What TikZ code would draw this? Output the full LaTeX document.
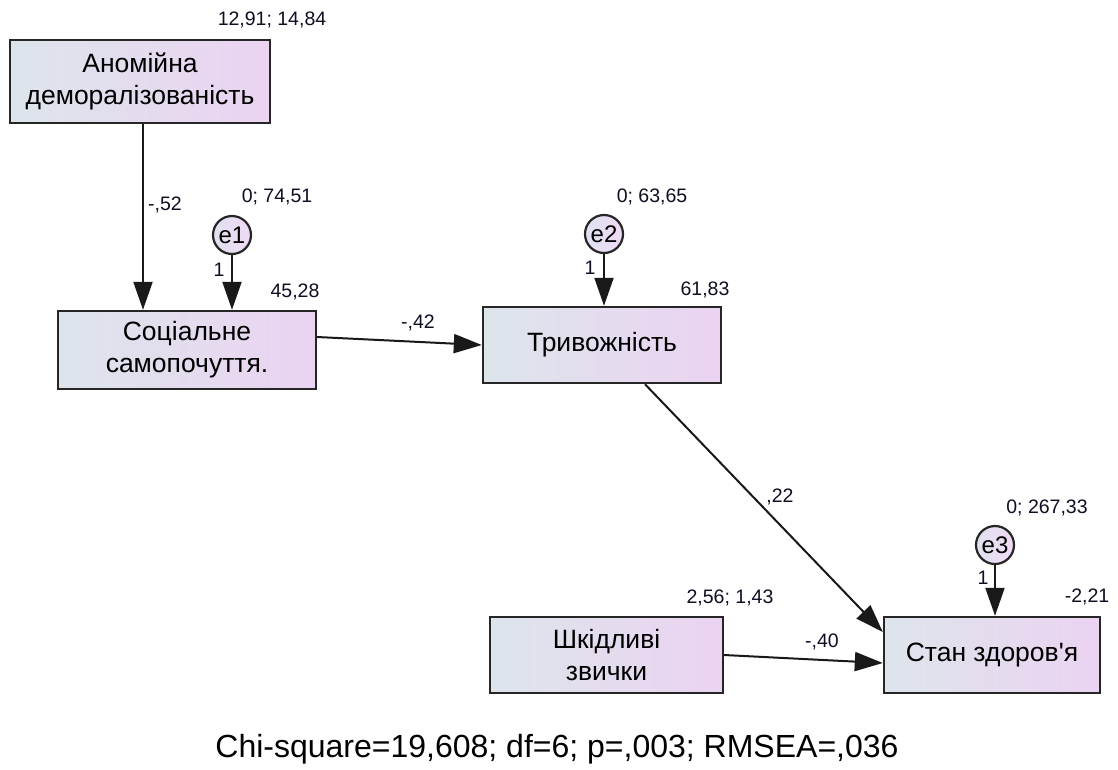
\documentclass[tikz,border=0pt]{standalone}
\usepackage{fontspec}
\setmainfont{Liberation Sans}
\newfontfamily\apfont{Liberation Sans}
\usetikzlibrary{arrows.meta,calc}
\definecolor{boxL}{RGB}{221,229,235}
\definecolor{boxR}{RGB}{235,211,242}
\definecolor{circL}{RGB}{225,225,240}
\definecolor{circR}{RGB}{238,218,244}
\definecolor{lab}{RGB}{15,15,35}
\begin{document}
\begin{tikzpicture}[x=1pt,y=-1pt,
  var/.style={draw=black!85, line width=2.4pt, left color=boxL, right color=boxR,
    minimum height=76pt, align=center, inner sep=0pt,
    font=\fontsize{26.5}{32}\selectfont},
  err/.style={circle, draw=black!85, line width=2.2pt, left color=circL, right color=circR,
    minimum size=38pt, inner sep=0pt, font=\fontsize{24}{24}\selectfont},
  arr/.style={line width=2pt, draw=black!90, -{Triangle[length=28pt,width=19pt]}},
  lbl/.style={text=lab, inner sep=0pt, font=\fontsize{19.5}{21}\selectfont}]
\fill[white] (0,0) rectangle (1118,769);
\useasboundingbox (0,0) rectangle (1118,769);

% variables
\node[var, minimum width=260pt, minimum height=83pt] (A) at (140,81.5) {Аномійна\\деморалізованість};
\node[var, minimum width=258pt, minimum height=78pt] (S) at (187,350) {Соціальне\\самопочуття.};
\node[var, minimum width=238pt] (T) at (602,345) {Тривожність};
\node[var, minimum width=233pt] (Sh) at (606.5,655) {Шкідливі\\звички};
\node[var, minimum width=216pt] (H) at (992,655) {Стан здоров{\apfont '}я};

% errors
\node[err] (e1) at (232,235) {e1};
\node[err] (e2) at (604,234) {e2};
\node[err] (e3) at (995,545) {e3};

% paths
\draw[arr] ([xshift=3pt]A.south) -- ([xshift=-44pt]S.north);
\draw[arr] (e1.south) -- (e1.south |- S.north);
\draw[arr] (e2.south) -- (e2.south |- T.north);
\draw[arr] (e3.south) -- (e3.south |- H.north);
\draw[arr] ([yshift=13pt]S.east) -- (T.west);
\draw[arr] ([xshift=43pt]T.south) -- ([yshift=23pt]H.west);
\draw[arr] (Sh.east) -- ([yshift=-8pt]H.west);

% labels
\node[lbl] (lA) at (272,20) {12,91; 14,84};
\node[lbl] (lAS) at (165,205) {-,52};
\node[lbl] (le1) at (277,197) {0; 74,51};
\node[lbl] (o1) at (219,270) {1};
\node[lbl] (lS) at (295,292) {45,28};
\node[lbl] (lST) at (418,323) {-,42};
\node[lbl] (le2) at (652,197) {0; 63,65};
\node[lbl] (o2) at (590,268) {1};
\node[lbl] (lT) at (705,290) {61,83};
\node[lbl] (lTH) at (780,497) {,22};
\node[lbl] (le3) at (1047,508) {0; 267,33};
\node[lbl] (o3) at (983,578) {1};
\node[lbl] (lH) at (1087,597) {-2,21};
\node[lbl] (lSh) at (730,598) {2,56; 1,43};
\node[lbl] (lShH) at (822,642) {-,40};

\node[inner sep=0pt, font=\fontsize{32}{34}\selectfont] (fit) at (557,749) {Chi-square=19,608; df=6; p=,003; RMSEA=,036};
\end{tikzpicture}
\end{document}
